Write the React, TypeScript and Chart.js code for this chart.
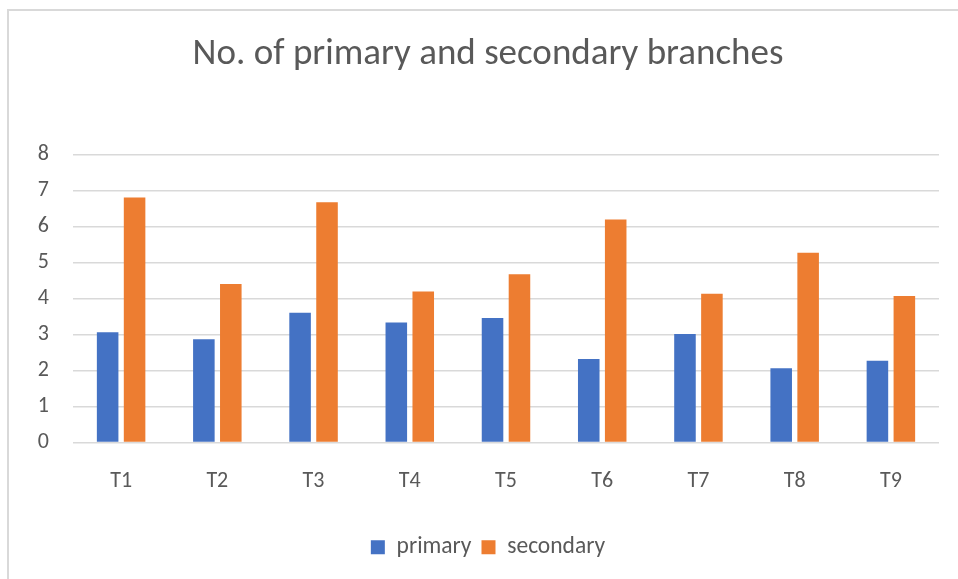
import React, { useEffect, useRef } from "react";
import { Chart, registerables } from "chart.js";

Chart.register(...registerables);

const titleText = "No. of primary and secondary branches";
const categories = ["T1", "T2", "T3", "T4", "T5", "T6", "T7", "T8", "T9"];
const primary = [3.06, 2.87, 3.6, 3.33, 3.46, 2.32, 3.01, 2.06, 2.27];
const secondary = [6.8, 4.4, 6.67, 4.19, 4.67, 6.19, 4.13, 5.27, 4.07];
const seriesNames = ["primary", "secondary"];
const yMin = 0;
const yMax = 8;
const yStep = 1;

const FONT = "Carlito, Calibri, 'Open Sans', sans-serif";
const TEXT = "#595959";
const GRID = "#d9d9d9";

export default function App() {
  const ref = useRef<HTMLCanvasElement | null>(null);

  useEffect(() => {
    if (!ref.current) return;
    const chart = new Chart(ref.current, {
      type: "bar",
      data: {
        labels: categories,
        datasets: [
          {
            label: seriesNames[0],
            data: primary,
            backgroundColor: "#4472C4",
            categoryPercentage: 0.56,
            barPercentage: 0.8,
          },
          {
            label: seriesNames[1],
            data: secondary,
            backgroundColor: "#ED7D31",
            categoryPercentage: 0.56,
            barPercentage: 0.8,
          },
        ],
      },
      options: {
        responsive: false,
        animation: false,
        devicePixelRatio: 1,
        layout: { padding: { left: 37, right: 19, top: 0, bottom: 10 } },
        plugins: {
          title: {
            display: true,
            text: titleText,
            color: TEXT,
            font: { family: FONT, size: 37, weight: "normal" },
            padding: { top: 33, bottom: 77 },
          },
          legend: {
            display: true,
            position: "bottom",
            labels: {
              color: TEXT,
              font: { family: FONT, size: 23.5 },
              boxWidth: 14,
              boxHeight: 14,
              padding: 10,
            },
          },
          tooltip: { enabled: false },
        },
        scales: {
          x: {
            grid: { display: false, drawTicks: false },
            border: { display: false },
            ticks: {
              color: TEXT,
              font: { family: FONT, size: 22 },
              padding: 26,
            },
            afterFit: (s: any) => {
              s.height = 83;
            },
          },
          y: {
            min: yMin,
            max: yMax,
            grid: { color: GRID, lineWidth: 1.5, drawTicks: false },
            border: { display: false },
            ticks: {
              stepSize: yStep,
              color: TEXT,
              font: { family: FONT, size: 22 },
              padding: 24,
            },
            afterFit: (s: any) => {
              s.width = 36;
            },
          },
        },
      },
    });
    return () => chart.destroy();
  }, []);

  return (
    <div
      style={{
        position: "fixed",
        left: 0,
        top: 0,
        width: 958,
        height: 579,
        overflow: "hidden",
        background: "#fff",
      }}
    >
      <div
        style={{
          position: "absolute",
          left: 7,
          top: 9,
          width: 1200,
          height: 1200,
          borderLeft: "2px solid #d9d9d9",
          borderTop: "2px solid #d9d9d9",
        }}
      />
      <canvas
        ref={ref}
        width={958}
        height={579}
        style={{ position: "absolute", left: 0, top: 0, width: 958, height: 579 }}
      />
    </div>
  );
}
